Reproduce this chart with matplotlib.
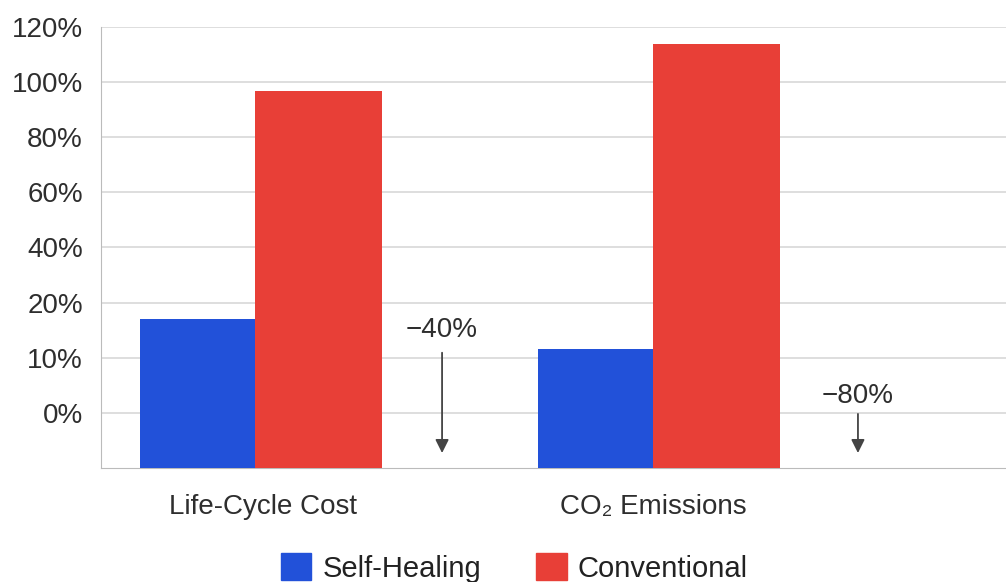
import matplotlib.pyplot as plt
from matplotlib.patches import Patch

plt.rcParams['font.family'] = ['Liberation Sans', 'DejaVu Sans']

# data (y values in "slot" units of the uneven axis: bottom=0, 0%=1, 10%=2, 20%=3, 40%=4 ...)
categories = ['Life-Cycle Cost', 'CO\u2082 Emissions']
self_healing = [2.70, 2.16]
conventional = [6.84, 7.69]
tick_labels = ['0%', '10%', '20%', '40%', '60%', '80%', '100%', '120%']
reductions = ['\u221240%', '\u221280%']

blue = '#2251d9'
red = '#e83f37'

fig = plt.figure(figsize=(10.06, 5.82), dpi=100)
ax = fig.add_axes([0.1004, 0.196, 0.8996, 0.7578])

x = [0, 1]
ax.bar(x, self_healing, width=-0.29, align='edge', color=blue, zorder=3)
ax.bar(x, conventional, width=0.32, align='edge', color=red, zorder=3)

ax.set_xlim(-0.387, 1.887)
ax.set_ylim(0, 8)
ax.set_yticks(range(1, 9))
ax.set_yticklabels(tick_labels, fontsize=20, color='#2e2e2e')
ax.set_xticks([0.02, 1.0])
ax.set_xticklabels(categories, fontsize=20, color='#2e2e2e')
ax.tick_params(axis='y', length=0, pad=13)
ax.tick_params(axis='x', length=0, pad=19)
ax.grid(axis='y', color='#d8d8d8', linewidth=1.2, zorder=0)

for s in ['top', 'right']:
    ax.spines[s].set_visible(False)
ax.spines['left'].set_color('#bbbbbb')
ax.spines['bottom'].set_color('#bbbbbb')

# reduction annotations
ann_x = [0.47, 1.515]
text_y = [2.50, 1.31]
arrow_top = [2.14, 1.03]
for i in range(2):
    ax.text(ann_x[i], text_y[i], reductions[i], ha='center', va='center',
            fontsize=20, color='#2e2e2e', zorder=4)
    ax.annotate('', xy=(ann_x[i], 0.22), xytext=(ann_x[i], arrow_top[i]),
                arrowprops=dict(arrowstyle='-|>', color='#444444', lw=1.3,
                                mutation_scale=20), zorder=4)

handles = [Patch(color=blue, label='Self-Healing'),
           Patch(color=red, label='Conventional')]
leg = fig.legend(handles=handles, loc='center', bbox_to_anchor=(0.5114, 0.024),
                 ncol=2, frameon=False, fontsize=21, handlelength=1.03,
                 handleheight=1.03, columnspacing=1.9, handletextpad=0.38,
                 borderpad=0, borderaxespad=0)
for t in leg.get_texts():
    t.set_color('#222222')

fig.savefig('out.png', dpi=100)
